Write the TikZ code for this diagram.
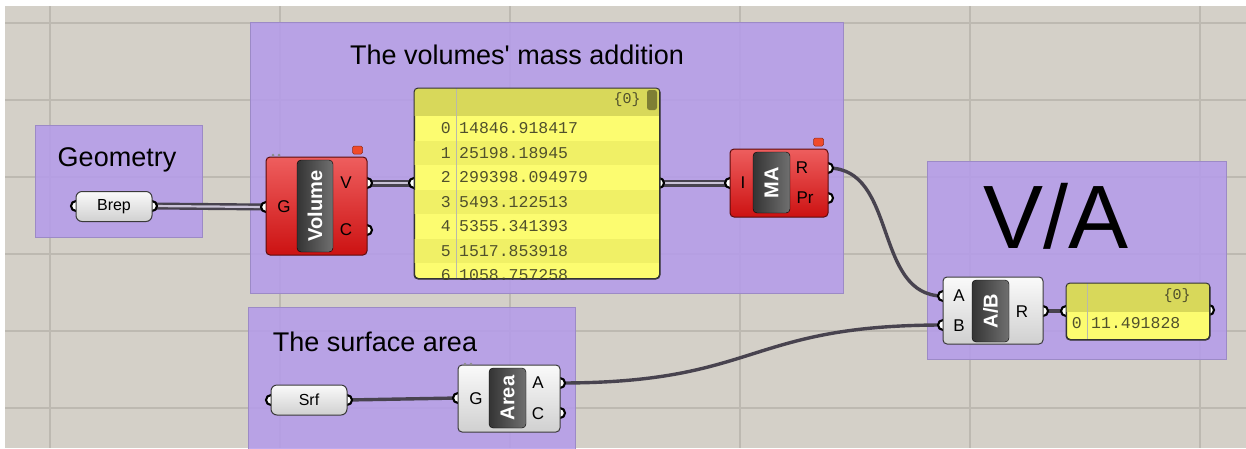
\documentclass[tikz,border=0pt]{standalone}
\usepackage{fontspec}
\setmainfont{Liberation Sans}[Ligatures=TeXOff]
\newfontfamily\panelfont{Liberation Mono}
\usetikzlibrary{positioning,calc}
\definecolor{Canvas}{HTML}{D4D0C8}
\definecolor{GridLine}{HTML}{BDB9B1}
\definecolor{GroupFill}{HTML}{B49BEB}
\definecolor{GroupLine}{HTML}{9C8AC6}
\definecolor{RedTop}{HTML}{EE5E5E}
\definecolor{RedBot}{HTML}{CC1212}
\definecolor{RedLine}{HTML}{5C0C0C}
\definecolor{GreyTop}{HTML}{FAFAFA}
\definecolor{GreyBot}{HTML}{D0D0D0}
\definecolor{CompLine}{HTML}{3A3A3A}
\definecolor{LabelTop}{HTML}{707070}
\definecolor{LabelBot}{HTML}{343434}
\definecolor{PanelYellow}{HTML}{FCFC70}
\definecolor{PanelStripe}{HTML}{F0F066}
\definecolor{PanelHead}{HTML}{D8D85A}
\definecolor{PanelText}{HTML}{50502C}
\definecolor{Scroll}{HTML}{7E7E34}
\definecolor{WireDark}{HTML}{48434F}
\definecolor{WireLight}{HTML}{C9C2D6}
\definecolor{Flag}{HTML}{F04A2A}
\tikzset{
  groupbox/.style={draw=GroupLine,fill=GroupFill,fill opacity=0.85,line width=0.8pt,anchor=north west,inner sep=0pt},
  grouptitle/.style={font=\fontsize{27}{30}\selectfont,text=black,inner sep=0pt},
  redcomp/.style={draw=RedLine,top color=RedTop,bottom color=RedBot,rounded corners=4pt,line width=1pt,inner sep=0pt},
  greycomp/.style={draw=CompLine,top color=GreyTop,bottom color=GreyBot,rounded corners=4pt,line width=1pt,inner sep=0pt},
  pillbox/.style={greycomp,rounded corners=6pt,font=\fontsize{16}{18}\selectfont},
  compname/.style={draw=black,right color=LabelTop,left color=LabelBot,rounded corners=4pt,rotate=90,text=white,font=\fontsize{20}{22}\selectfont\bfseries,inner sep=0pt},
  pin/.style={font=\fontsize{17}{19}\selectfont,text=black,inner sep=0pt},
  port/.style={circle,draw=black,fill=white,line width=2.1pt,minimum size=10pt,inner sep=0pt},
  grip/.style={circle,fill=black!45,minimum size=3pt,inner sep=0pt},
  flagbox/.style={fill=Flag,draw=Flag!60!black,rounded corners=1.5pt,line width=0.5pt,minimum width=10pt,minimum height=8pt,inner sep=0pt},
  panelbox/.style={draw=black!80,fill=PanelYellow,rounded corners=4pt,line width=1pt,anchor=north west,inner sep=0pt},
  paneltext/.style={font=\panelfont\fontsize{16.5}{18}\selectfont,text=PanelText,inner sep=0pt},
  listwire/.style={draw=WireDark,line width=2.4pt,double=WireLight,double distance=2.2pt},
  wire/.style={draw=WireDark,line width=3.4pt}
}
\begin{document}
\begin{tikzpicture}[x=1pt,y=-1pt]
  % canvas and grid
  \useasboundingbox (0,0) rectangle (1246,448);
  \fill[white] (0,0) rectangle (1246,448);
  \fill[Canvas] (5,6) rectangle (1246,448);
  \foreach \gx in {50,280,510,740,970,1200}
    \draw[GridLine,line width=1.2pt] (\gx,6) -- (\gx,448);
  \foreach \gy in {23,100,177,254,331,408}
    \draw[GridLine,line width=1.2pt] (5,\gy) -- (1246,\gy);

  % groups
  \node[groupbox,minimum width=167,minimum height=112] (geo) at (35,125) {};
  \node[groupbox,minimum width=593,minimum height=271] (mass) at (250,22) {};
  \node[groupbox,minimum width=299,minimum height=198] (ratio) at (927,161) {};
  \node[groupbox,minimum width=327,minimum height=150] (surf) at (248,307) {};
  \node[grouptitle] (geoTitle) at (117,160) {Geometry};
  \node[grouptitle] (massTitle) at (517,55) {The volumes' mass addition};
  \node[grouptitle,font=\fontsize{90}{96}\selectfont] (ratioTitle) at (1056,216) {V/A};
  \node[grouptitle] (surfTitle) at (375,342) {The surface area};

  % port positions
  \coordinate (brepIn) at (76,206);
  \coordinate (brepOut) at (152,206);
  \coordinate (volG) at (266,207);
  \coordinate (volV) at (367,183);
  \coordinate (volC) at (367,230);
  \coordinate (listIn) at (414,183);
  \coordinate (listOut) at (659,183);
  \coordinate (maI) at (730,183);
  \coordinate (maR) at (828,168);
  \coordinate (maPr) at (828,198);
  \coordinate (divA) at (943,296);
  \coordinate (divB) at (943,325);
  \coordinate (divR) at (1043,311);
  \coordinate (resIn) at (1066,311);
  \coordinate (resOut) at (1209,310);
  \coordinate (srfIn) at (271,400);
  \coordinate (srfOut) at (347,400);
  \coordinate (areaG) at (458,398);
  \coordinate (areaA) at (560,383);
  \coordinate (areaC) at (560,413);

  % wires
  \draw[listwire] (brepOut) -- (volG);
  \draw[listwire] (volV) -- (listIn);
  \draw[listwire] (listOut) -- (maI);
  \draw[wire] (maR) .. controls (898,168) and (873,296) .. (divA);
  \draw[wire] (srfOut) -- (areaG);
  \draw[wire] (areaA) .. controls (760,383) and (745,325) .. (divB);
  \draw[wire] (divR) -- (resIn);

  % ports
  \foreach \p in {brepIn,brepOut,volG,volV,volC,listIn,listOut,maI,maR,maPr,divA,divB,divR,resIn,resOut,srfIn,srfOut,areaG,areaA,areaC}
    \node[port] at (\p) {};

  % Brep
  \node[pillbox,minimum width=76,minimum height=30] (brep) at (114,206.5) {Brep};

  % Volume
  \node[flagbox] (volFlag) at (357.5,150) {};
  \node[redcomp,minimum width=101,minimum height=98] (vol) at (316.5,206) {};
  \node[grip] (volGrip1) at (273,155) {};
  \node[grip] (volGrip2) at (279,155) {};
  \node[compname,minimum width=92,minimum height=36] (volName) at (315,206) {Volume};
  \node[pin] (volGLabel) at (284,207) {G};
  \node[pin] (volVLabel) at (346,183) {V};
  \node[pin] (volCLabel) at (346,230) {C};

  % list panel
  \node[panelbox,minimum width=245,minimum height=190] (list) at (414,88) {};
  \begin{scope}
    \clip[rounded corners=4pt] (list.north west) rectangle (list.south east);
    \fill[PanelHead] (414,88) rectangle (659,116);
    \fill[PanelStripe] (414,141) rectangle (659,165);
    \fill[PanelStripe] (414,190) rectangle (659,214);
    \fill[PanelStripe] (414,239) rectangle (659,263);
    \draw[PanelText!40,line width=0.8pt] (456,88) -- (456,278);
    \node[paneltext,anchor=east] (i0) at (451,128) {0};
    \node[paneltext,anchor=west] (v0) at (459,128) {14846.918417};
    \node[paneltext,anchor=east] (i1) at (451,153) {1};
    \node[paneltext,anchor=west] (v1) at (459,153) {25198.18945};
    \node[paneltext,anchor=east] (i2) at (451,177) {2};
    \node[paneltext,anchor=west] (v2) at (459,177) {299398.094979};
    \node[paneltext,anchor=east] (i3) at (451,202) {3};
    \node[paneltext,anchor=west] (v3) at (459,202) {5493.122513};
    \node[paneltext,anchor=east] (i4) at (451,226) {4};
    \node[paneltext,anchor=west] (v4) at (459,226) {5355.341393};
    \node[paneltext,anchor=east] (i5) at (451,251) {5};
    \node[paneltext,anchor=west] (v5) at (459,251) {1517.853918};
    \node[paneltext,anchor=east] (i6) at (451,275) {6};
    \node[paneltext,anchor=west] (v6) at (459,275) {1058.757258};
  \end{scope}
  \draw[black!80,line width=1pt,rounded corners=4pt] (list.north west) rectangle (list.south east);
  \node[paneltext,font=\panelfont\fontsize{15}{17}\selectfont] (listPath) at (627,100) {\{0\}};
  \fill[Scroll,rounded corners=2.5pt] (647,90) rectangle (657,110);

  % MA
  \node[flagbox] (maFlag) at (818.5,142) {};
  \node[redcomp,minimum width=98,minimum height=68] (ma) at (779,183) {};
  \node[compname,minimum width=61,minimum height=37] (maName) at (771.5,182.5) {MA};
  \node[pin] (maILabel) at (743,183) {I};
  \node[pin] (maRLabel) at (802,168) {R};
  \node[pin] (maPrLabel) at (805,198) {Pr};

  % A/B
  \node[greycomp,minimum width=100,minimum height=67] (div) at (993,310.5) {};
  \node[compname,minimum width=62,minimum height=37] (divName) at (990.5,311) {A/B};
  \node[pin] (divALabel) at (959,296) {A};
  \node[pin] (divBLabel) at (959,326) {B};
  \node[pin] (divRLabel) at (1022,312) {R};

  % result panel
  \node[panelbox,minimum width=143,minimum height=56] (res) at (1066,283) {};
  \begin{scope}
    \clip[rounded corners=4pt] (res.north west) rectangle (res.south east);
    \fill[PanelHead] (1066,283) rectangle (1209,312);
    \draw[PanelText!40,line width=0.8pt] (1087,283) -- (1087,339);
  \end{scope}
  \draw[black!80,line width=1pt,rounded corners=4pt] (res.north west) rectangle (res.south east);
  \node[paneltext,font=\panelfont\fontsize{15}{17}\selectfont] (resPath) at (1177,296) {\{0\}};
  \node[paneltext,anchor=east] (ri0) at (1082,323) {0};
  \node[paneltext,anchor=west] (rv0) at (1091,323) {11.491828};

  % Srf
  \node[pillbox,minimum width=76,minimum height=30] (srf) at (309,400) {Srf};

  % Area
  \node[greycomp,minimum width=102,minimum height=67] (area) at (509,398.5) {};
  \node[grip] (areaGrip1) at (465,364) {};
  \node[grip] (areaGrip2) at (471,364) {};
  \node[compname,minimum width=60,minimum height=37] (areaName) at (507.5,398) {Area};
  \node[pin] (areaGLabel) at (476,399) {G};
  \node[pin] (areaALabel) at (538,383) {A};
  \node[pin] (areaCLabel) at (538,414) {C};
\end{tikzpicture}
\end{document}
